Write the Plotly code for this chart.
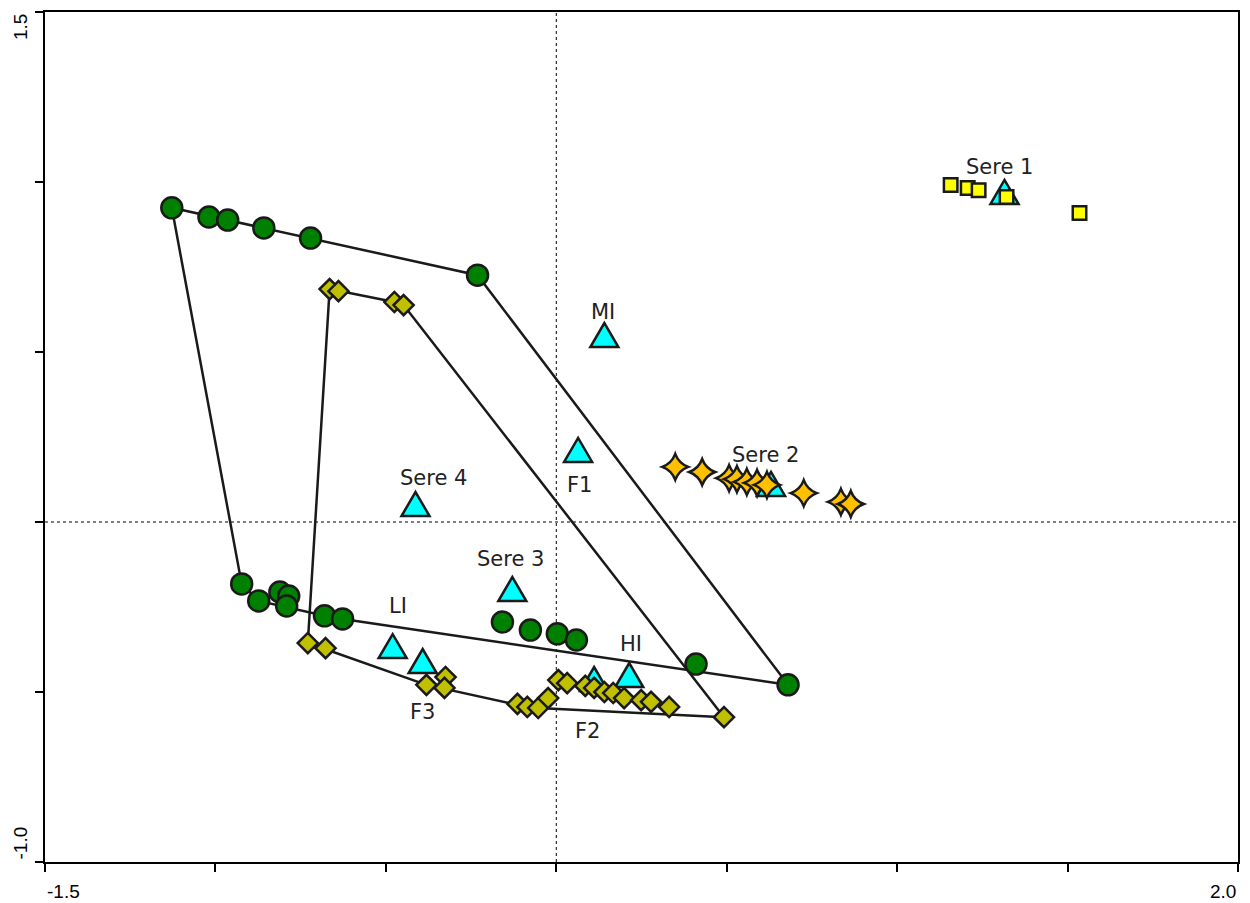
import plotly.graph_objects as go

# ---- ordination scores -------------------------------------------------
# green group (circles)
circ_x = [-1.128, -1.019, -0.964, -0.858, -0.721, -0.231,
          -0.923, -0.873, -0.811, -0.785, -0.791, -0.680, -0.627,
          -0.158, -0.076, 0.003, 0.059, 0.410, 0.680]
circ_y = [0.924, 0.897, 0.888, 0.865, 0.835, 0.726,
          -0.182, -0.232, -0.206, -0.218, -0.247, -0.276, -0.285,
          -0.294, -0.318, -0.329, -0.347, -0.418, -0.479]

# olive group (diamonds)
diam_x = [-0.665, -0.639, -0.475, -0.448, -0.729, -0.677, -0.381, -0.325,
          -0.328, -0.114, -0.085, -0.053, -0.024, 0.006, 0.032, 0.085,
          0.111, 0.141, 0.167, 0.199, 0.249, 0.278, 0.331, 0.492]
diam_y = [0.685, 0.679, 0.647, 0.638, -0.356, -0.371, -0.479, -0.456,
          -0.488, -0.535, -0.544, -0.547, -0.518, -0.465, -0.474, -0.482,
          -0.488, -0.500, -0.503, -0.518, -0.524, -0.529, -0.544, -0.574]

# Sere 1 samples (squares)
sq_x = [1.157, 1.207, 1.239, 1.321, 1.535]
sq_y = [0.991, 0.982, 0.976, 0.956, 0.909]

# Sere 2 samples (stars)
star_x = [0.349, 0.428, 0.507, 0.530, 0.559, 0.589, 0.618, 0.726, 0.835, 0.864]
star_y = [0.162, 0.147, 0.129, 0.126, 0.118, 0.115, 0.109, 0.085, 0.059, 0.053]

# centroids (triangles)
cent_names = ["Sere 1", "MI", "Sere 2", "F1", "Sere 4", "Sere 3", "LI", "HI", "F3", "F2"]
cent_x = [1.315, 0.141, 0.630, 0.064, -0.413, -0.129, -0.480, 0.214, -0.392, 0.111]
cent_y = [0.968, 0.547, 0.109, 0.209, 0.050, -0.200, -0.368, -0.453, -0.412, -0.465]

# label offsets in pixels (dx right, dy up)
label_dx = [-5, -1, -6, 1, 18, -2, 5, 2, 0, -7]
label_dy = [26, 24, 30, -34, 27, 31, 41, 32, -50, -51]

x_range = [-1.5, 2.0]
y_range = [-1.0, 1.5]
x_ticks = [-1.5, -1.0, -0.5, 0.0, 0.5, 1.0, 1.5, 2.0]
y_ticks = [-1.0, -0.5, 0.0, 0.5, 1.0, 1.5]

EDGE = "#1a1a1a"
TRIANGLE = "M -14,-11 L 14,-11 L 0,13 Z"
STAR = ("M 0,13 Q 3.5,3.5 13,0 Q 3.5,-3.5 0,-13 "
        "Q -3.5,-3.5 -13,0 Q -3.5,3.5 0,13 Z")


def convex_hull(xs, ys):
    pts = sorted(set(zip(xs, ys)))

    def cross(o, a, b):
        return (a[0] - o[0]) * (b[1] - o[1]) - (a[1] - o[1]) * (b[0] - o[0])

    lower, upper = [], []
    for p in pts:
        while len(lower) >= 2 and cross(lower[-2], lower[-1], p) <= 0:
            lower.pop()
        lower.append(p)
    for p in reversed(pts):
        while len(upper) >= 2 and cross(upper[-2], upper[-1], p) <= 0:
            upper.pop()
        upper.append(p)
    ring = lower[:-1] + upper[:-1]
    ring.append(ring[0])
    return [p[0] for p in ring], [p[1] for p in ring]


def glyph(path, x, y, fill):
    return dict(type="path", xref="x", yref="y",
                xsizemode="pixel", ysizemode="pixel", xanchor=x, yanchor=y,
                path=path, fillcolor=fill, line=dict(color=EDGE, width=2.5),
                layer="below")


fig = go.Figure()

# group envelopes
for xs, ys in [(circ_x, circ_y), (diam_x, diam_y)]:
    hx, hy = convex_hull(xs, ys)
    fig.add_trace(go.Scatter(x=hx, y=hy, mode="lines",
                             line=dict(color=EDGE, width=2.5),
                             hoverinfo="skip", showlegend=False))

fig.add_trace(go.Scatter(x=circ_x, y=circ_y, mode="markers", showlegend=False,
                         marker=dict(symbol="circle", size=21, color="#008000",
                                     line=dict(color=EDGE, width=2.5))))
fig.add_trace(go.Scatter(x=diam_x, y=diam_y, mode="markers", showlegend=False,
                         marker=dict(symbol="diamond", size=15.5, color="#C0C000",
                                     line=dict(color=EDGE, width=2.5))))
fig.add_trace(go.Scatter(x=sq_x, y=sq_y, mode="markers", showlegend=False,
                         marker=dict(symbol="square", size=13.5, color="#FFFF00",
                                     line=dict(color=EDGE, width=2.5))))

shapes = [
    dict(type="line", xref="x", yref="paper", x0=0, x1=0, y0=0, y1=1,
         line=dict(color="black", width=1, dash="3px,3px"), layer="below"),
    dict(type="line", xref="paper", yref="y", x0=0, x1=1, y0=0, y1=0,
         line=dict(color="black", width=1, dash="3px,3px"), layer="below"),
]
# centroids as equilateral triangles, Sere 2 samples as four-point stars
for cx, cy in zip(cent_x, cent_y):
    shapes.append(glyph(TRIANGLE, cx, cy, "#00FFFF"))
for sx, sy in zip(star_x, star_y):
    shapes.append(glyph(STAR, sx, sy, "#FFC000"))

annotations = []
for name, cx, cy, dx, dy in zip(cent_names, cent_x, cent_y, label_dx, label_dy):
    annotations.append(dict(x=cx, y=cy, xref="x", yref="y", text=name,
                            showarrow=False, xshift=dx, yshift=dy,
                            font=dict(family="DejaVu Sans", size=21, color="#222222")))

tick_font = dict(family="Liberation Sans", size=19, color="black")
annotations += [
    dict(x=x_range[0], y=0, xref="x", yref="paper", text="-1.5", showarrow=False,
         xanchor="left", yanchor="middle", yshift=-29, font=tick_font),
    dict(x=x_range[1], y=0, xref="x", yref="paper", text="2.0", showarrow=False,
         xanchor="right", yanchor="middle", yshift=-29, font=tick_font),
    dict(x=0, y=y_range[1], xref="paper", yref="y", text="1.5", showarrow=False,
         textangle=-90, xanchor="center", yanchor="top", xshift=-25, font=tick_font),
    dict(x=0, y=y_range[0], xref="paper", yref="y", text="-1.0", showarrow=False,
         textangle=-90, xanchor="center", yanchor="bottom", xshift=-25, font=tick_font),
]

axis_common = dict(showgrid=False, zeroline=False, showline=True, mirror=True,
                   linecolor="black", linewidth=2, ticks="outside", ticklen=8,
                   tickwidth=2, tickcolor="black", showticklabels=False)

fig.update_layout(
    width=1250, height=903,
    margin=dict(l=45, r=10, t=12, b=41),
    paper_bgcolor="white", plot_bgcolor="white",
    xaxis=dict(range=x_range, tickvals=x_ticks, **axis_common),
    yaxis=dict(range=y_range, tickvals=y_ticks, **axis_common),
    shapes=shapes, annotations=annotations,
)

fig.write_html("out.html")
